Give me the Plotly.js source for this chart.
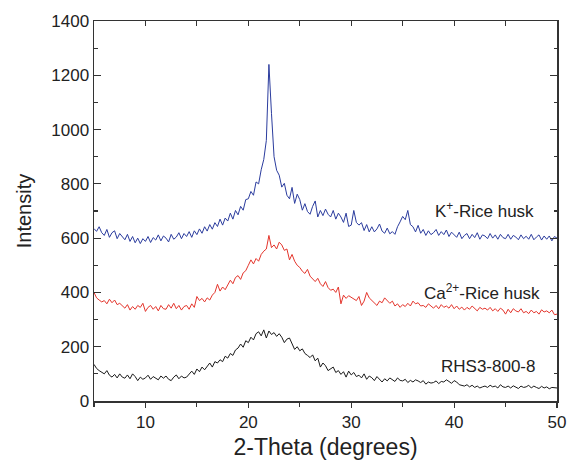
<!DOCTYPE html>
<html>
<head>
<meta charset="utf-8">
<script src="https://cdn.plot.ly/plotly-3.0.1.min.js"></script>
<style>html,body{margin:0;padding:0;background:#fff}#chart{width:569px;height:464px}</style>
</head>
<body>
<div id="chart"></div>
<script>
// 2-Theta sampling of the patterns (degrees)
const thetaStart = 5;
const thetaStep = 0.25;

// K+-Rice husk intensity, 5.00 .. 50.00 deg every 0.25 deg
const kRiceHusk = [
  635, 625, 642, 620,  610, 632, 603, 620,  627, 598, 617, 606,  594, 614, 588, 606,
  583, 600, 580, 598,  588, 606, 584, 602,  593, 612, 590, 608,  600, 586, 614, 596,
  604, 620, 598, 617,  606, 624, 603, 627,  613, 634, 618, 642,  626, 650, 633, 657,
  643, 670, 648, 674,  663, 692, 670, 702,  686, 717, 703, 742,  745, 772, 758, 807,
  800, 852, 890, 960,  1240, 1060, 900, 850,  832, 788, 802, 758,  745, 787, 728, 762,
  742, 703, 727, 698,  688, 717, 737, 678,  702, 683, 707, 688,  678, 702, 670, 692,
  678, 658, 692, 643,  648, 702, 658, 648,  657, 628, 650, 623,  642, 623, 634, 652,
  626, 618, 637, 616,  624, 614, 642, 660,  680, 668, 702, 650,  642, 623, 647, 618,
  632, 610, 627, 613,  620, 632, 610, 624,  613, 630, 606, 622,  614, 603, 622, 598,
  610, 617, 598, 614,  602, 620, 596, 612,  608, 598, 617, 600,  612, 596, 614, 602,
  598, 614, 596, 610,  604, 594, 612, 598,  607, 596, 614, 594,  604, 612, 593, 608,
  596, 608, 590, 606,  600
];

// Ca2+-Rice husk intensity
const caRiceHusk = [
  400, 380, 372, 365,  370, 358, 375, 362,  372, 355, 360, 350,  342, 355, 335, 348,
  338, 352, 345, 360,  330, 345, 352, 338,  348, 332, 352, 340,  338, 355, 342, 360,
  340, 352, 335, 348,  352, 338, 358, 345,  385, 370, 378, 365,  380, 372, 390, 400,
  430, 405, 420, 410,  428, 445, 432, 455,  462, 448, 472, 480,  500, 520, 505, 525,
  515, 540, 552, 560,  610, 565, 575, 560,  585, 575, 555, 560,  520, 540, 515, 500,
  492, 478, 470, 485,  460, 448, 440, 452,  432, 422, 440, 418,  408, 412, 400, 420,
  358, 390, 378, 388,  382, 375, 370, 385,  352, 368, 400, 380,  370, 360, 352, 368,
  362, 380, 370, 360,  368, 350, 358, 345,  355, 348, 360, 350,  368, 358, 362, 350,
  352, 345, 358, 348,  342, 352, 340, 355,  345, 350, 342, 355,  340, 350, 338, 346,
  335, 345, 338, 350,  340, 332, 345, 338,  342, 335, 345, 332,  340, 330, 342, 335,
  320, 338, 325, 340,  332, 328, 340, 325,  330, 322, 335, 325,  330, 320, 336, 328,
  332, 325, 335, 318,  320
];

// RHS3-800-8 intensity
const rhs3 = [
  135, 120, 112, 105,  100, 112, 95, 88,  98, 85, 100, 88,  84, 96, 82, 100,
  90, 75, 88, 80,  85, 95, 80, 90,  85, 78, 92, 84,  92, 80, 75, 88,
  96, 82, 92, 85,  88, 100, 110, 98,  118, 108, 125, 115,  128, 140, 125, 145,
  140, 152, 145, 165,  158, 175, 168, 188,  195, 210, 198, 222,  215, 235, 225, 248,
  255, 240, 262, 232,  258, 245, 252, 238,  248, 235, 215, 228,  232, 210, 190, 200,
  185, 192, 175, 168,  160, 170, 148, 158,  125, 140, 130, 112,  118, 125, 105, 112,
  98, 108, 88, 110,  96, 105, 90, 95,  85, 100, 80, 92,  86, 75, 90, 80,
  70, 82, 74, 85,  78, 72, 85, 76,  74, 80, 68, 76,  70, 78, 74, 68,
  75, 62, 70, 66,  68, 74, 64, 72,  70, 78, 72, 65,  75, 70, 60, 58,
  55, 60, 52, 58,  50, 55, 48, 52,  55, 50, 58, 52,  55, 48, 60, 52,
  50, 55, 48, 56,  50, 46, 55, 50,  52, 58, 48, 55,  50, 46, 54, 48,
  52, 45, 50, 48,  48
];

const seriesNames = ['K<sup>+</sup>-Rice husk', 'Ca<sup>2+</sup>-Rice husk', 'RHS3-800-8'];
const seriesColors = ['#2b3c9e', '#e4352c', '#1a1a1a'];
const seriesData = [kRiceHusk, caRiceHusk, rhs3];
const labelPos = [[43.0, 705], [42.7, 400], [43.35, 126]];

const traces = seriesData.map((ys, i) => ({
  type: 'scatter', mode: 'lines', x0: thetaStart, dx: thetaStep, y: ys,
  line: {color: seriesColors[i], width: 1}, name: seriesNames[i], showlegend: false,
  hoverinfo: 'skip'
}));
// empty trace to create the top tick axis
traces.push({type: 'scatter', mode: 'lines', x: [], y: [], xaxis: 'x2', yaxis: 'y', showlegend: false});

const font = {family: 'Liberation Sans, Arial, sans-serif', color: '#222'};
const axisLine = {showline: true, linecolor: '#333', linewidth: 1.5, showgrid: false, zeroline: false};

const layout = {
  width: 569, height: 464,
  margin: {l: 94, r: 12, t: 21, b: 63},
  paper_bgcolor: '#fff', plot_bgcolor: '#fff',
  font: Object.assign({size: 17}, font),
  xaxis: Object.assign({}, axisLine, {
    range: [5, 50], mirror: true,
    ticks: 'outside', ticklen: 5, tickwidth: 1.2, tickcolor: '#333', dtick: 10, tick0: 0,
    minor: {ticks: 'outside', ticklen: 4, tickwidth: 1.2, tickcolor: '#333', dtick: 5, tick0: 0},
    tickfont: Object.assign({size: 17}, font),
    title: {text: '2-Theta (degrees)', font: Object.assign({size: 23}, font), standoff: 8}
  }),
  xaxis2: {
    overlaying: 'x', anchor: 'y', side: 'top', range: [5, 50],
    showline: false, showgrid: false, zeroline: false, showticklabels: false,
    ticks: 'inside', ticklen: 5, tickwidth: 1.2, tickcolor: '#333', dtick: 5, tick0: 0
  },
  yaxis: Object.assign({}, axisLine, {
    range: [0, 1400], mirror: 'ticks',
    ticks: 'inside', ticklen: 7, tickwidth: 1.2, tickcolor: '#333', dtick: 200, tick0: 0,
    minor: {ticks: 'inside', ticklen: 3.5, tickwidth: 1.2, tickcolor: '#333', dtick: 100, tick0: 0},
    tickfont: Object.assign({size: 17}, font),
    title: {text: 'Intensity', font: Object.assign({size: 20}, font), standoff: 14}
  }),
  annotations: seriesNames.map((t, i) => ({
    x: labelPos[i][0], y: labelPos[i][1], xref: 'x', yref: 'y', text: t, showarrow: false,
    font: Object.assign({size: 17}, font), xanchor: 'center', yanchor: 'middle'
  }))
};

Plotly.newPlot('chart', traces, layout, {staticPlot: true, displayModeBar: false});
</script>
</body>
</html>
